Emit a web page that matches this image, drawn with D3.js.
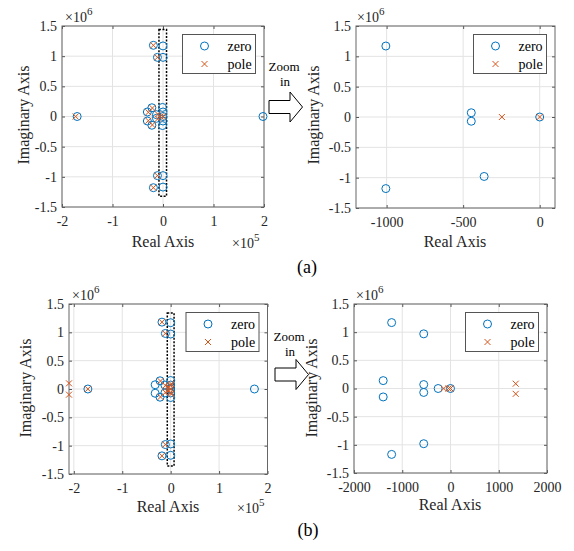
<!DOCTYPE html>
<html><head><meta charset="utf-8">
<script src="https://cdn.jsdelivr.net/npm/d3@7"></script>
<style>
body{margin:0;background:#fff;}
svg{display:block;}
svg text{font-family:"Liberation Serif","Times New Roman",serif !important;}
</style></head><body>
<svg id="c" width="574" height="551"></svg>
<script>
// ---------- data ----------
const yTicks = [-1.5e6, -1e6, -0.5e6, 0, 0.5e6, 1e6, 1.5e6];
const yTickLabels = ["-1.5", "-1", "-0.5", "0", "0.5", "1", "1.5"];
const xTicksFull = [-2e5, -1e5, 0, 1e5, 2e5];
const xTickLabelsFull = ["-2", "-1", "0", "1", "2"];
const xTicksZoomA = [-1000, -500, 0];
const xTickLabelsZoomA = ["-1000", "-500", "0"];
const xTicksZoomB = [-2000, -1000, 0, 1000, 2000];
const xTickLabelsZoomB = ["-2000", "-1000", "0", "1000", "2000"];
const legendLabels = ["zero", "pole"];

// (a) full view  [real, imag]
const zerosAFull = [[-1.70e5,0],[1.98e5,0],[-1.9e4,1.18e6],[-1.9e4,-1.18e6],[0,1.17e6],[0,-1.17e6],
  [-1.1e4,0.98e6],[-1.1e4,-0.98e6],[0,0.98e6],[0,-0.98e6],[-3.1e4,0.075e6],[-3.1e4,-0.075e6],
  [-2.2e4,0.145e6],[-2.2e4,-0.145e6],[-1.3e4,0.03e6],[-1.3e4,-0.03e6],[-1e3,0.15e6],[-1e3,-0.15e6],
  [0,0.075e6],[0,-0.075e6],[0,0]];
const polesAFull = [[-1.73e5,0],[-1.9e4,1.18e6],[-1.9e4,-1.18e6],[-1.1e4,0.98e6],[-1.1e4,-0.98e6],
  [-2.9e4,0.07e6],[-2.9e4,-0.07e6],[-2.1e4,0.14e6],[-2.1e4,-0.14e6],[-1.0e4,0.035e6],[-1.0e4,-0.035e6],
  [-5e3,0],[0,0]];
// (a) zoomed
const zerosAZoom = [[-1005,1.17e6],[-1005,-1.18e6],[-447,0.07e6],[-447,-0.07e6],[-363,-0.98e6],[0,0]];
const polesAZoom = [[-247,0],[0,0]];
// (b) full view
const zerosBFull = [[-1.71e5,0],[1.73e5,0],[-1.8e4,1.18e6],[-1.8e4,-1.18e6],[0,1.17e6],[0,-1.17e6],
  [-1.1e4,0.98e6],[-1.1e4,-0.98e6],[0,0.97e6],[0,-0.97e6],[-3.2e4,0.075e6],[-3.2e4,-0.075e6],
  [-2.2e4,0.145e6],[-2.2e4,-0.145e6],[-1.2e4,0.07e6],[-1.2e4,-0.07e6],[0,0.15e6],[0,-0.15e6],
  [0,0.07e6],[0,-0.07e6],[0,0]];
const polesBFull = [[-2.1e5,0.1e6],[-2.1e5,-0.1e6],[-1.71e5,0],[-1.8e4,1.18e6],[-1.8e4,-1.18e6],
  [-1.1e4,0.98e6],[-1.1e4,-0.98e6],[-2.1e4,0.14e6],[-2.1e4,-0.14e6],[-1.1e4,0.06e6],[-1.1e4,-0.06e6],
  [-5e3,0.03e6],[-5e3,-0.03e6],[0,0.06e6],[0,-0.06e6],[1.35e3,0.09e6],[1.35e3,-0.09e6],[0,0]];
// (b) zoomed
const zerosBZoom = [[-1220,1.17e6],[-1220,-1.17e6],[-555,0.97e6],[-555,-0.98e6],[-1395,0.14e6],
  [-1395,-0.15e6],[-555,0.07e6],[-555,-0.07e6],[-256,0],[0,0]];
const polesBZoom = [[-139,0],[-42,0],[0,0],[1352,0.085e6],[1352,-0.095e6]];

// dashed zoom-region rectangles [x0, x1, y0, y1]
const zoomRegionA = [-8e3, 7e3, -1.32e6, 1.44e6];
const zoomRegionB = [-7e3, 7e3, -1.36e6, 1.34e6];

// ---------- layout ----------
const BLUE = "#0072BD", ORANGE = "#D95319", TXT = "#262626";
const panels = [
  {L:62, R:264, T:26, B:207, xd:[-2e5,2e5], xt:xTicksFull, xl:xTickLabelsFull, zeros:zerosAFull, poles:polesAFull,
   region:zoomRegionA, ylab:[28.5,115], xlab:[163,247], e6:[65,22], e5:[232,248]},
  {L:356, R:555, T:26, B:208, xd:[-1200,100], xt:xTicksZoomA, xl:xTickLabelsZoomA, zeros:zerosAZoom, poles:polesAZoom,
   region:null, ylab:[319,115], xlab:[455,247], e6:[357,22], e5:null},
  {L:69, R:267.5, T:304, B:474, xd:[-2.1e5,2e5], xt:xTicksFull, xl:xTickLabelsFull, zeros:zerosBFull, poles:polesBFull,
   region:zoomRegionB, ylab:[31,388], xlab:[168,512], e6:[72,300], e5:[237,513]},
  {L:354, R:547, T:304, B:473, xd:[-2000,2000], xt:xTicksZoomB, xl:xTickLabelsZoomB, zeros:zerosBZoom, poles:polesBZoom,
   region:null, ylab:[317,388], xlab:[450,510], e6:[356,300], e5:null}
];

const svg = d3.select("#c");

function sup(g, x, y, base, exp){
  const t = g.append("text").attr("x", x).attr("y", y).attr("fill", TXT).attr("font-size", 14);
  t.append("tspan").text(base);
  t.append("tspan").attr("dy", -7).attr("font-size", 11).text(exp);
}
function cross(sel, s){
  return sel.append("path").attr("d", `M${-s},${-s}L${s},${s}M${-s},${s}L${s},${-s}`)
    .attr("stroke", ORANGE).attr("stroke-width", 1).attr("fill", "none");
}

panels.forEach(p => {
  const g = svg.append("g");
  const x = d3.scaleLinear().domain(p.xd).range([p.L, p.R]);
  const y = d3.scaleLinear().domain([-1.5e6, 1.5e6]).range([p.B, p.T]);

  // grid
  g.append("g").selectAll("line.gx").data(p.xt).join("line")
    .attr("x1", d => x(d)).attr("x2", d => x(d)).attr("y1", p.T).attr("y2", p.B)
    .attr("stroke", "#e3e3e3").attr("stroke-width", 1);
  g.append("g").selectAll("line.gy").data(yTicks).join("line")
    .attr("y1", d => y(d)).attr("y2", d => y(d)).attr("x1", p.L).attr("x2", p.R)
    .attr("stroke", "#e3e3e3").attr("stroke-width", 1);

  // axes
  const ax = g.append("g").attr("transform", `translate(0,${p.B})`)
    .call(d3.axisBottom(x).tickValues(p.xt).tickFormat((d,i) => p.xl[i]).tickSizeInner(-3).tickSizeOuter(0).tickPadding(9));
  const ay = g.append("g").attr("transform", `translate(${p.L},0)`)
    .call(d3.axisLeft(y).tickValues(yTicks).tickFormat((d,i) => yTickLabels[i]).tickSizeInner(-3).tickSizeOuter(0).tickPadding(5));
  const ax2 = g.append("g").attr("transform", `translate(0,${p.T})`)
    .call(d3.axisTop(x).tickValues(p.xt).tickFormat("").tickSizeInner(-3).tickSizeOuter(0));
  const ay2 = g.append("g").attr("transform", `translate(${p.R},0)`)
    .call(d3.axisRight(y).tickValues(yTicks).tickFormat("").tickSizeInner(-3).tickSizeOuter(0));
  [ax, ay, ax2, ay2].forEach(a => {
    a.attr("font-family", null).attr("font-size", null);
    a.selectAll(".domain").remove();
    a.selectAll(".tick line").attr("stroke", "#555");
    a.selectAll("text").attr("font-size", 14).attr("fill", TXT);
  });
  // box
  g.append("rect").attr("x", p.L).attr("y", p.T).attr("width", p.R - p.L).attr("height", p.B - p.T)
    .attr("fill", "none").attr("stroke", "#666").attr("stroke-width", 1);

  // dashed region
  if (p.region) {
    const r = p.region;
    g.append("rect").attr("x", x(r[0])).attr("y", y(r[3]))
      .attr("width", x(r[1]) - x(r[0])).attr("height", y(r[2]) - y(r[3]))
      .attr("fill", "none").attr("stroke", "#000").attr("stroke-width", 1.5).attr("stroke-dasharray", "2,1.5");
  }

  // zeros
  g.append("g").selectAll("circle").data(p.zeros).join("circle")
    .attr("cx", d => x(d[0])).attr("cy", d => y(d[1])).attr("r", 4)
    .attr("fill", "none").attr("stroke", BLUE).attr("stroke-width", 1);
  // poles
  g.append("g").selectAll("g").data(p.poles).join("g")
    .attr("transform", d => `translate(${x(d[0])},${y(d[1])})`)
    .each(function(){ cross(d3.select(this), 3); });

  // labels
  g.append("text").attr("x", p.xlab[0]).attr("y", p.xlab[1]).attr("text-anchor", "middle")
    .attr("font-size", 16).attr("fill", TXT).text("Real Axis");
  g.append("text").attr("transform", `translate(${p.ylab[0]},${p.ylab[1]}) rotate(-90)`).attr("text-anchor", "middle")
    .attr("font-size", 16).attr("fill", TXT).text("Imaginary Axis");
  sup(g, p.e6[0], p.e6[1], "×10", "6");
  if (p.e5) sup(g, p.e5[0], p.e5[1], "×10", "5");

  // legend
  const lw = 73, lh = 39, lx = p.R - 8.5 - lw, ly = p.T + 8.5;
  const lg = g.append("g");
  lg.append("rect").attr("x", lx).attr("y", ly).attr("width", lw).attr("height", lh)
    .attr("fill", "#fff").attr("stroke", "#555").attr("stroke-width", 1);
  lg.append("circle").attr("cx", lx + 22).attr("cy", ly + 11.5).attr("r", 4)
    .attr("fill", "none").attr("stroke", BLUE).attr("stroke-width", 1);
  cross(lg.append("g").attr("transform", `translate(${lx + 22},${ly + 29.5})`), 3);
  legendLabels.forEach((t, i) => {
    lg.append("text").attr("x", lx + 45).attr("y", ly + 16.5 + i * 18).attr("font-size", 14).attr("fill", "#000").text(t);
  });
});

// zoom-in arrows
const arrows = [{x0:269, y:107, tx:284, ty:70.7}, {x0:275, y:374.5, tx:289, ty:340.7}];
arrows.forEach(a => {
  const s = 6.5, h = 15, sw = 21, hl = 12.5;
  svg.append("path")
    .attr("d", `M${a.x0},${a.y - s}H${a.x0 + sw}V${a.y - h}L${a.x0 + sw + hl},${a.y}L${a.x0 + sw},${a.y + h}V${a.y + s}H${a.x0}Z`)
    .attr("fill", "#fff").attr("stroke", "#000").attr("stroke-width", 1);
  svg.append("text").attr("x", a.tx).attr("y", a.ty).attr("text-anchor", "middle").attr("font-size", 13).text("Zoom");
  svg.append("text").attr("x", a.tx + 1).attr("y", a.ty + 15.5).attr("text-anchor", "middle").attr("font-size", 13).text("in");
});

// subfigure captions
svg.append("text").attr("x", 307).attr("y", 273).attr("text-anchor", "middle").attr("font-size", 18).text("(a)");
svg.append("text").attr("x", 308).attr("y", 536).attr("text-anchor", "middle").attr("font-size", 18).text("(b)");
</script>
</body></html>
